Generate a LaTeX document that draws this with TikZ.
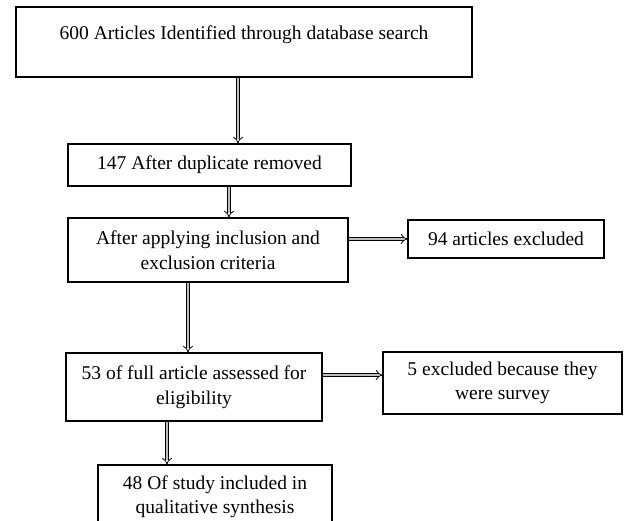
\documentclass[tikz,border=0pt]{standalone}
\usepackage{fontspec}
\setmainfont{Liberation Serif}
\usepackage{tikz}
\usetikzlibrary{arrows.meta, positioning}

\begin{document}
\begin{tikzpicture}[x=1pt, y=-1pt, on grid,
        box/.style={draw, line width=1.2pt, rectangle, inner sep=0pt, align=center,
            font=\fontsize{19.5}{24.5}\selectfont},
        flow/.style={double=gray!50, double distance=2.6pt, line width=0.8pt, -{Implies}}]
        \clip (0,0) rectangle (627,521);
        % define boxes
        % first box, text sits high
        \node[box, minimum width=456pt, minimum height=70pt, text depth=18pt] (search) at (244,42)
            {600 Articles Identified through database search};
        \node[box, minimum width=283pt, minimum height=42pt] (dup) [below left=123pt and 34.5pt of search]
            {147 After duplicate removed};
        \node[box, minimum width=280pt, minimum height=64pt] (screen) [below left=85pt and 1.5pt of dup]
            {After applying inclusion and\\exclusion criteria};
        % excluded boxes on the right
        \node[box, minimum width=196pt, minimum height=38pt] (excl) [above right=11pt and 298pt of screen]
            {94 articles excluded};
        \node[box, minimum width=256pt, minimum height=68pt] (full) [below left=137pt and 14pt of screen]
            {53 of full article assessed for\\eligibility};
        \node[box, minimum width=239pt, minimum height=62pt] (survey) [above right=4pt and 308.5pt of full]
            {5 excluded because they\\were survey};
        % last box runs off the bottom
        \node[box, minimum width=234pt, minimum height=63pt] (incl) [below right=109.5pt and 21pt of full]
            {48 Of study included in\\qualitative synthesis};

        % define arrows
        \draw[flow] ([xshift=-6pt]search.south) -- ([xshift=-6pt]search.south |- dup.north);
        \draw[flow] ([xshift=19.5pt]dup.south) -- ([xshift=19.5pt]dup.south |- screen.north);
        \draw[flow] (screen.east |- excl.west) -- (excl.west); % screen to excl
        \draw[flow] ([xshift=-20pt]screen.south) -- ([xshift=-20pt]screen.south |- full.north);
        \draw[flow] ([yshift=8pt]survey.west -| full.east) -- ([yshift=8pt]survey.west); % full to survey
        \draw[flow] ([xshift=-27pt]full.south) -- ([xshift=-27pt]full.south |- incl.north);
    \end{tikzpicture}
\end{document}
